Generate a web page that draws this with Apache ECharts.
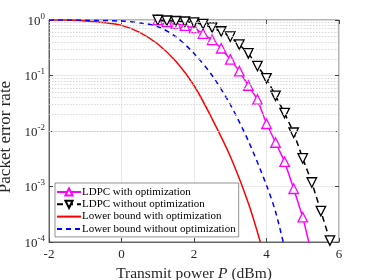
<!DOCTYPE html>
<html>
<head>
<meta charset="utf-8">
<script src="https://cdn.jsdelivr.net/npm/echarts@6/dist/echarts.min.js"></script>
<style>html,body{margin:0;padding:0;background:#fff}#c{width:374px;height:280px}</style>
</head>
<body>
<div id="c"></div>
<script>
// ---- data ----
var xLdpcOpt   = [1.0,1.25,1.5,1.75,2.0,2.25,2.5,2.75,3.0,3.25,3.5,3.75,4.0,4.25,4.5,4.75,5.0,5.25];
var perLdpcOpt = [1.0,0.93,0.86,0.79,0.72,0.57,0.44,0.31,0.195,0.12,0.066,0.037,0.0135,0.0062,0.0028,0.00091,0.00028,0.00006];

var xLdpcNoOpt   = [1.0,1.25,1.5,1.75,2.0,2.25,2.5,2.75,3.0,3.25,3.5,3.75,4.0,4.25,4.5,4.75,5.0,5.25,5.5,5.75];
var perLdpcNoOpt = [1.0,0.97,0.95,0.93,0.90,0.84,0.73,0.62,0.50,0.36,0.25,0.148,0.089,0.043,0.021,0.0093,0.0032,0.00118,0.00036,0.000106];

var xBoundOpt   = [-2,-1.5,-1,-0.5,0,0.5,1.0,1.5,2.0,2.5,3.0,3.5,3.83];
var perBoundOpt = [1.0,0.997,0.96,0.90,0.80,0.60,0.37,0.18,0.066,0.0166,0.0035,0.0005,0.0001];

var xBoundNoOpt   = [-2,-1,0,0.5,1.0,1.5,2.0,2.5,3.0,3.5,4.0,4.25,4.46];
var perBoundNoOpt = [1.0,0.993,0.955,0.89,0.76,0.50,0.25,0.10,0.030,0.0066,0.00105,0.00035,0.0001];

var xTicks = [-2,0,2,4,6];
var yDecades = [1e-4,1e-3,1e-2,1e-1,1];

var names = ['LDPC with optimization','LDPC without optimization','Lower bound with optimization','Lower bound without optimization'];

function pairs(xs, ys){ return xs.map(function(x,i){ return [x, ys[i]]; }); }

// minor grid values (2..9 in each decade)
var minorVals = [];
for (var d = -4; d < 0; d++) { for (var m = 2; m <= 9; m++) minorVals.push({yAxis: m*Math.pow(10,d)}); }

var serif = 'Liberation Serif, DejaVu Serif, serif';
var chart = echarts.init(document.getElementById('c'));
chart.setOption({
  animation: false,
  backgroundColor: '#fff',
  grid: {left: 49, right: 35, top: 20, bottom: 38, show: true, borderColor: '#444', borderWidth: 0.8,
         containLabel: false, outerBoundsMode: 'none'},
  xAxis: [{
    type: 'value', min: xTicks[0], max: xTicks[xTicks.length-1], interval: 2,
    name: 'Transmit power {i|P} (dBm)', nameLocation: 'middle', nameGap: 19,
    nameTextStyle: {fontFamily: serif, fontSize: 15.5, color: '#262626',
      rich: {i: {fontFamily: serif, fontSize: 15.5, fontStyle: 'italic', color: '#262626'}}},
    axisLine: {onZero: false, lineStyle: {color: '#444', width: 0.8}},
    axisTick: {inside: true, length: 4, lineStyle: {color: '#444'}},
    axisLabel: {fontFamily: serif, fontSize: 13, color: '#262626', margin: 6},
    splitLine: {show: true, lineStyle: {color: '#e3e3e3', width: 0.8}}
  },{
    type: 'value', position: 'top', min: xTicks[0], max: xTicks[xTicks.length-1], interval: 2,
    axisLine: {show: false, onZero: false}, axisLabel: {show: false}, splitLine: {show: false},
    axisTick: {inside: true, length: 4, lineStyle: {color: '#444'}}
  }],
  yAxis: [{
    type: 'log', logBase: 10, min: yDecades[0], max: yDecades[yDecades.length-1],
    name: 'Packet error rate', nameLocation: 'middle', nameGap: 23, nameRotate: 90,
    nameTextStyle: {fontFamily: serif, fontSize: 17, color: '#262626', padding: [0, 12, 0, 0]},
    axisLine: {show: true, onZero: false, lineStyle: {color: '#444', width: 0.8}},
    axisTick: {inside: true, length: 4, lineStyle: {color: '#444'}},
    axisLabel: {margin: 4, color: '#262626',
      formatter: function(v){ var e = Math.round(Math.log10(v)); return '{b|10}{s|' + e + '}'; },
      rich: {b: {fontFamily: serif, fontSize: 13, color: '#262626', lineHeight: 16, verticalAlign: 'bottom'},
             s: {fontFamily: serif, fontSize: 9, color: '#262626', lineHeight: 16, verticalAlign: 'top'}}},
    splitLine: {show: true, lineStyle: {color: '#e3e3e3', width: 0.8}}
  },{
    type: 'log', logBase: 10, position: 'right', min: yDecades[0], max: yDecades[yDecades.length-1],
    axisLine: {show: false, onZero: false}, axisLabel: {show: false}, splitLine: {show: false},
    axisTick: {inside: true, length: 4, lineStyle: {color: '#444'}}
  }],
  legend: {
    data: names, orient: 'vertical', left: 55, top: 183,
    itemWidth: 24, itemHeight: 9, itemGap: 0.3,
    padding: [3, 3, 2, 1],
    backgroundColor: '#fff', borderColor: '#777', borderWidth: 0.8, borderRadius: 0,
    textStyle: {fontFamily: serif, fontSize: 11, lineHeight: 12, color: '#000', padding: [0,0,0,-4]}
  },
  series: [
    {type: 'line', name: 'minor', data: [], silent: true,
     markLine: {silent: true, symbol: 'none', label: {show: false}, animation: false,
       lineStyle: {color: '#cfcfcf', type: [1.5, 1.5], width: 0.8}, data: minorVals}},
    {type: 'line', name: names[0], data: pairs(xLdpcOpt, perLdpcOpt), clip: true,
     symbol: 'triangle', symbolSize: 9.5,
     lineStyle: {color: '#ff00ff', width: 1.5},
     itemStyle: {color: '#fff', borderColor: '#ff00ff', borderWidth: 1.3}},
    {type: 'line', name: names[1], data: pairs(xLdpcNoOpt, perLdpcNoOpt), clip: true,
     symbol: 'triangle', symbolRotate: 180, symbolSize: 9.5,
     lineStyle: {color: '#000', width: 1.5, type: [6, 4]},
     itemStyle: {color: '#fff', borderColor: '#000', borderWidth: 1.3}},
    {type: 'line', name: names[2], data: pairs(xBoundOpt, perBoundOpt), clip: true,
     symbol: 'none', smooth: 0.3, color: '#ff0000',
     lineStyle: {color: '#ff0000', width: 1.5}, itemStyle: {opacity: 0}},
    {type: 'line', name: names[3], data: pairs(xBoundNoOpt, perBoundNoOpt), clip: true,
     symbol: 'none', smooth: 0.3, color: '#0000ff',
     lineStyle: {color: '#0000ff', width: 1.5, type: [5, 4]}, itemStyle: {opacity: 0}}
  ]
});
</script>
</body>
</html>
